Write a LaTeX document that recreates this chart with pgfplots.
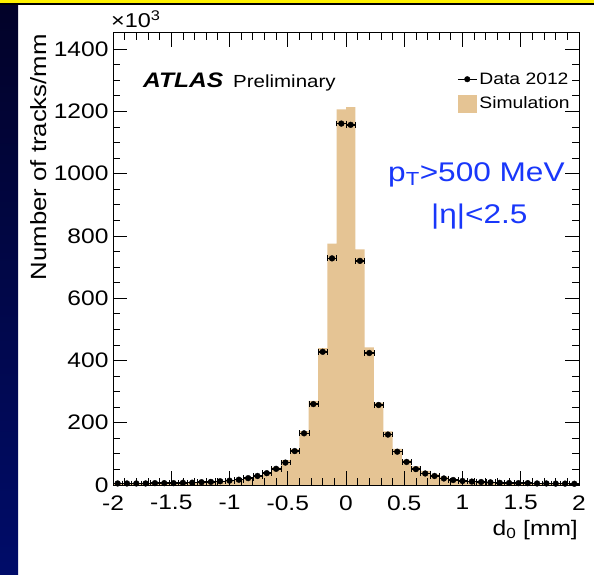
\documentclass[border=0pt]{standalone}
\usepackage{pgfplots}
\pgfplotsset{compat=1.18}
\usepackage{fontspec}
\setmainfont{Liberation Sans}[FakeStretch=1.17]
\definecolor{simcol}{RGB}{229,196,148}
\definecolor{atlasblue}{RGB}{25,55,250}
\definecolor{navytop}{RGB}{2,2,40}
\definecolor{navybot}{RGB}{0,12,105}

\pgfplotstableread{
x y
-2.00 5.5
-1.92 5.5
-1.84 5.5
-1.76 5.5
-1.68 6.5
-1.60 6.5
-1.52 6.5
-1.44 7.5
-1.36 8
-1.28 9.5
-1.20 11
-1.12 13
-1.04 15
-0.96 18
-0.88 24
-0.80 32
-0.72 41
-0.64 57
-0.56 80
-0.48 115
-0.40 173
-0.32 270
-0.24 440
-0.16 775
-0.08 1207
0.00 1214
0.08 757
0.16 442
0.24 265
0.32 172
0.40 116
0.48 80
0.56 60
0.64 45
0.72 34
0.80 26
0.88 20
0.96 16
1.04 13
1.12 11
1.20 9.5
1.28 8
1.36 7
1.44 6.5
1.52 6.5
1.60 5.5
1.68 5.5
1.76 5
1.84 5
1.92 4.5
2.00 4.5
}\simtable

\pgfplotstableread{
x y
-1.96 5
-1.88 5
-1.80 5
-1.72 5
-1.64 6
-1.56 6
-1.48 6
-1.40 7
-1.32 7.5
-1.24 9
-1.16 10
-1.08 12
-1.00 14
-0.92 17
-0.84 22
-0.76 29
-0.68 38
-0.60 52
-0.52 72
-0.44 109
-0.36 166
-0.28 260
-0.20 428
-0.12 728
-0.04 1161
0.04 1157
0.12 720
0.20 424
0.28 257
0.36 162
0.44 107
0.52 74
0.60 51
0.68 37
0.76 29
0.84 21
0.92 16
1.00 13
1.08 11
1.16 9.5
1.24 8.5
1.32 7
1.40 6.5
1.48 6
1.56 6
1.64 5
1.72 5
1.80 4.5
1.88 4.5
1.96 4
}\datatable

\begin{document}
\begin{tikzpicture}[x=1pt,y=1pt]
\fill[white] (0,0) rectangle (594,-575);
\shade[top color=navytop, bottom color=navybot] (0,0) rectangle (18,-575);
\fill[yellow] (0,0) rectangle (594,-3.3);
\fill[black] (0,-3.3) rectangle (594,-4.7);

\begin{axis}[
  at={(113pt,-485pt)}, anchor=south west,
  scale only axis, width=466pt, height=452pt,
  xmin=-2, xmax=2, ymin=0, ymax=1452,
  axis on top,
  tick align=inside, tick pos=both,
  xtick={-2,-1.5,-1,-0.5,0,0.5,1,1.5,2},
  minor x tick num=4,
  ytick={0,200,400,600,800,1000,1200,1400},
  minor y tick num=3,
  major tick length=14pt, minor tick length=7pt,
  tick style={black, line width=0.8pt},
  axis line style={line width=1pt},
  /pgf/number format/assume math mode=true,
  /pgf/number format/1000 sep={},
  ticklabel style={font=\fontsize{21}{25}\selectfont},
  xticklabel style={yshift=-7pt},
  yticklabel style={xshift=-1pt},
  legend style={draw=none, fill=none, at={(0.738,0.917)}, anchor=north west,
    font=\fontsize{16.5}{20}\selectfont, row sep=7pt, inner sep=0pt,
    cells={anchor=west}},
]
\addplot[fill=simcol, draw=none, const plot mark left, forget plot] table[x=x,y=y] {\simtable} \closedcycle;
\addplot[only marks, mark=*, mark size=2.9pt, black, forget plot,
  error bars/.cd, x dir=both, x fixed=0.04,
  error bar style={line width=1.5pt, black}] table[x=x,y=y] {\datatable};
\addlegendimage{legend image code/.code={\draw[black, line width=1.3pt] (0pt,0pt) -- (19pt,0pt); \fill[black] (9.5pt,0pt) circle (2.8pt);}}
\addlegendentry{Data 2012}
\addlegendimage{legend image code/.code={\fill[simcol] (0pt,-8.5pt) rectangle (18pt,8.5pt);}}
\addlegendentry{Simulation}
\end{axis}

\node[rotate=90, anchor=base east, inner sep=0pt, font=\fontsize{22}{26}\selectfont] at (46,-34) {Number of tracks/mm};
\node[anchor=base east, inner sep=0pt, font=\fontsize{21}{25}\selectfont] at (578,-535) {d\textsubscript{0} [mm]};
\node[anchor=base west, inner sep=0pt, font=\fontsize{20}{24}\selectfont] at (111,-28) {×10\textsuperscript{3}};
\node[anchor=base west, inner sep=0pt, font=\fontsize{21}{25}\selectfont\bfseries\itshape] at (143,-88) {ATLAS};
\node[anchor=base west, inner sep=0pt, font=\fontsize{17.5}{20}\selectfont] at (233,-88) {Preliminary};
\node[anchor=base west, inner sep=0pt, text=atlasblue, font=\fontsize{27}{32}\selectfont] at (388,-181) {p\textsubscript{T}>500 MeV};
\node[anchor=base west, inner sep=0pt, text=atlasblue, font=\fontsize{27}{32}\selectfont] at (431,-223) {|η|<2.5};

\pgfresetboundingbox
\useasboundingbox (0,0) rectangle (594,-575);
\end{tikzpicture}
\end{document}
